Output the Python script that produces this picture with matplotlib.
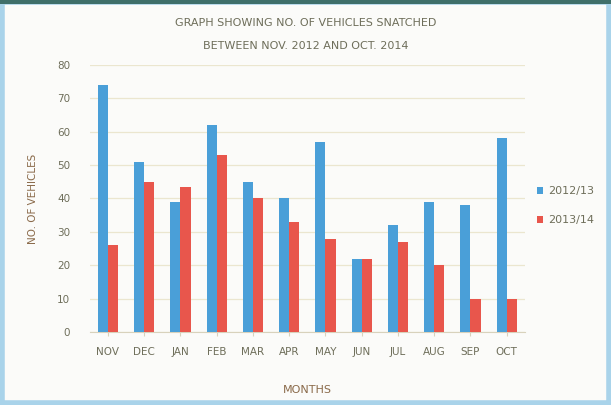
import numpy as np
import matplotlib.pyplot as plt
from matplotlib.patches import Rectangle

months = ['NOV', 'DEC', 'JAN', 'FEB', 'MAR', 'APR', 'MAY', 'JUN', 'JUL', 'AUG', 'SEP', 'OCT']
y2012 = [74, 51, 39, 62, 45, 40, 57, 22, 32, 39, 38, 58]
y2013 = [26, 45, 43.5, 53, 40, 33, 28, 22, 27, 20, 10, 10]
series_names = ['2012/13', '2013/14']

blue = '#4a9fd8'
red = '#e8564c'
txt = '#6e6e5a'

fig = plt.figure(figsize=(6.11, 4.05), dpi=100)
fig.patch.set_facecolor('#fbfbf9')
# frame round the picture
fig.patches.append(Rectangle((0.004, 0.004), 0.992, 0.99, transform=fig.transFigure,
                             fill=False, edgecolor='#a9d3ea', lw=4))
fig.patches.append(Rectangle((0, 0.99), 1, 0.01, transform=fig.transFigure,
                             color='#3f6f6a', lw=0))

ax = fig.add_axes([0.147, 0.180, 0.712, 0.660])
ax.set_facecolor('#fbfbf9')
x = np.arange(len(months))
w = 0.28
ax.bar(x - w/2, y2012, w, color=blue, label=series_names[0], zorder=3)
ax.bar(x + w/2, y2013, w, color=red, label=series_names[1], zorder=3)

ax.set_xlim(-0.5, len(months) - 0.5)
ax.set_ylim(0, 80)
ax.set_yticks(range(0, 81, 10))
ax.set_xticks(x)
ax.set_xticklabels(months)
ax.grid(axis='y', color='#ebe6cf', lw=0.9, zorder=0)
for s in ['top', 'right', 'left']:
    ax.spines[s].set_visible(False)
ax.spines['bottom'].set_color('#d8d2bc')
ax.tick_params(axis='y', length=0, labelsize=7.5, labelcolor=txt, pad=14)
ax.tick_params(axis='x', length=3, color='#d8d2bc', labelsize=7.5, labelcolor=txt, pad=8)

ax.set_ylabel('NO. OF VEHICLES', fontsize=7.5, color='#8a6a4a', labelpad=14)
ax.set_xlabel('MONTHS', fontsize=8, color='#8a6a4a', labelpad=20)

fig.text(0.5, 0.935, 'GRAPH SHOWING NO. OF VEHICLES SNATCHED', ha='center',
         fontsize=8, color=txt)
fig.text(0.5, 0.88, 'BETWEEN NOV. 2012 AND OCT. 2014', ha='center',
         fontsize=8, color=txt)

fig.legend(loc='upper left', bbox_to_anchor=(0.862, 0.565), frameon=False,
           fontsize=8, labelcolor=txt, handlelength=0.6, handleheight=0.6,
           handletextpad=0.4, labelspacing=1.7)

plt.savefig('out.png', dpi=100, facecolor=fig.get_facecolor())
